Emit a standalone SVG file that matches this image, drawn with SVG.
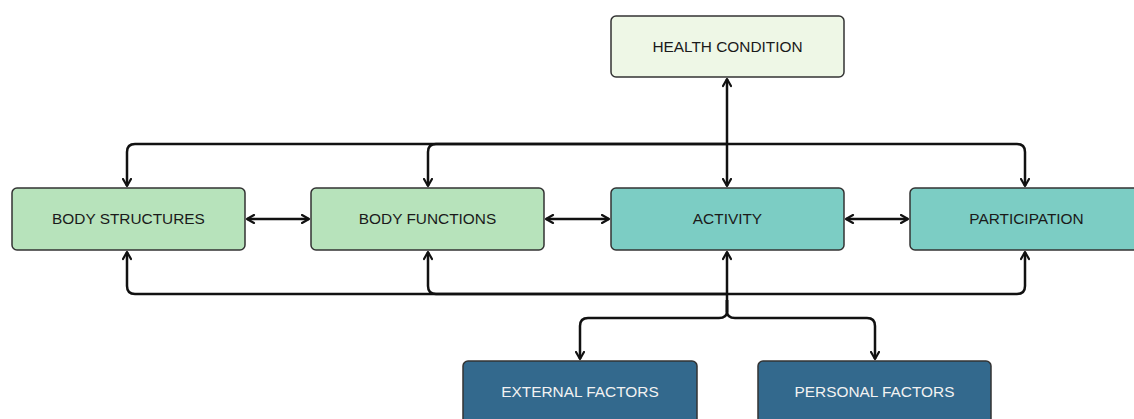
<svg xmlns="http://www.w3.org/2000/svg" width="1134" height="419" viewBox="0 0 1134 419">
<style>
.box{stroke:#333;stroke-width:1.5}
.hc{fill:#eef7e6}
.bd{fill:#b7e3bb}
.ac{fill:#7ccdc4}
.fx{fill:#33698d}
.t{font-family:"Liberation Sans",Arial,sans-serif;font-size:15.4px;fill:#1a1a1a;text-anchor:middle}
.tw{fill:#f2f2f2}
.c{fill:none;stroke:#111;stroke-width:2.5;stroke-linejoin:round}
</style>
<defs>
<marker id="ah" viewBox="0 0 10 10" refX="8.5" refY="5" markerWidth="4" markerHeight="4" orient="auto-start-reverse">
<path d="M1.5,1 L8.5,5 L1.5,9" fill="none" stroke="#111" stroke-width="2.2" stroke-linecap="round" stroke-linejoin="round"/>
</marker>
</defs>
<rect width="1134" height="419" fill="#fff"/>
<g id="connectors">
<path class="c" d="M727,79 V186" marker-start="url(#ah)" marker-end="url(#ah)"/>
<path class="c" d="M727,144 H135 Q127,144 127,152 V186" marker-end="url(#ah)"/>
<path class="c" d="M727,144 H436 Q428,144 428,152 V186" marker-end="url(#ah)"/>
<path class="c" d="M727,144 H1017 Q1025,144 1025,152 V186" marker-end="url(#ah)"/>
<path class="c" d="M727,294 H135 Q127,294 127,286 V252" marker-end="url(#ah)"/>
<path class="c" d="M727,294 H436 Q428,294 428,286 V252" marker-end="url(#ah)"/>
<path class="c" d="M727,294 H1017 Q1025,294 1025,286 V252" marker-end="url(#ah)"/>
<path class="c" d="M727,312 V252" marker-end="url(#ah)"/>
<path class="c" d="M727,300 V311 Q727,318 719,318 H588 Q580,318 580,326 V359" marker-end="url(#ah)"/>
<path class="c" d="M727,300 V311 Q727,318 735,318 H867 Q875,318 875,326 V359" marker-end="url(#ah)"/>
<path class="c" d="M247,219 H309" marker-start="url(#ah)" marker-end="url(#ah)"/>
<path class="c" d="M546,219 H609" marker-start="url(#ah)" marker-end="url(#ah)"/>
<path class="c" d="M846,219 H908" marker-start="url(#ah)" marker-end="url(#ah)"/>
</g>
<g id="health-condition">
<rect class="box hc" x="611" y="16" width="233" height="61" rx="5"/>
<text class="t" x="727.5" y="52">HEALTH CONDITION</text>
</g>
<g id="body-structures">
<rect class="box bd" x="12" y="188" width="233" height="62" rx="5"/>
<text class="t" x="128.5" y="224">BODY STRUCTURES</text>
</g>
<g id="body-functions">
<rect class="box bd" x="311" y="188" width="233" height="62" rx="5"/>
<text class="t" x="427.5" y="224">BODY FUNCTIONS</text>
</g>
<g id="activity">
<rect class="box ac" x="611" y="188" width="233" height="62" rx="5"/>
<text class="t" x="727.5" y="224">ACTIVITY</text>
</g>
<g id="participation">
<rect class="box ac" x="910" y="188" width="233" height="62" rx="5"/>
<text class="t" x="1026.5" y="224">PARTICIPATION</text>
</g>
<g id="external-factors">
<rect class="box fx" x="463" y="361" width="234" height="70" rx="5"/>
<text class="t tw" x="580" y="397">EXTERNAL FACTORS</text>
</g>
<g id="personal-factors">
<rect class="box fx" x="758" y="361" width="233" height="70" rx="5"/>
<text class="t tw" x="874.5" y="397">PERSONAL FACTORS</text>
</g>
</svg>
